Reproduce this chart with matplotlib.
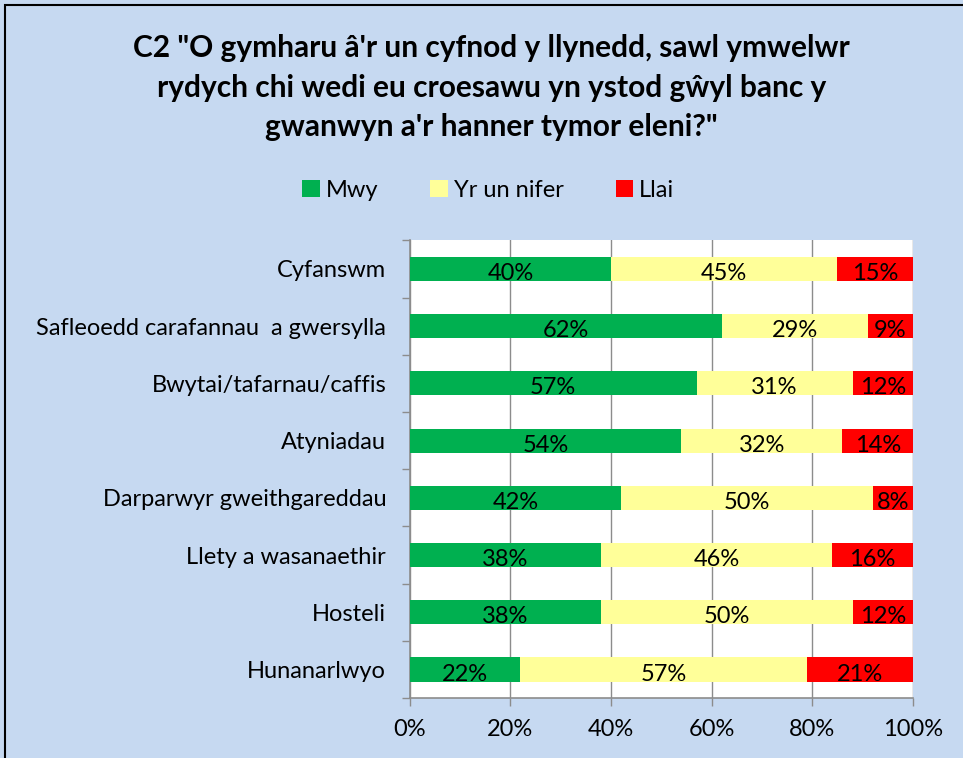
import matplotlib.pyplot as plt
import numpy as np
from matplotlib.patches import Rectangle

# data
categories = ["Cyfanswm", "Safleoedd carafannau  a gwersylla", "Bwytai/tafarnau/caffis",
              "Atyniadau", "Darparwyr gweithgareddau", "Llety a wasanaethir",
              "Hosteli", "Hunanarlwyo"]
mwy = [40, 62, 57, 54, 42, 38, 38, 22]
yr_un_nifer = [45, 29, 31, 32, 50, 46, 50, 57]
llai = [15, 9, 12, 14, 8, 16, 12, 21]
series_names = ["Mwy", "Yr un nifer", "Llai"]
colors = ["#00B050", "#FFFF99", "#FF0000"]

title = 'C2 "O gymharu â\'r un cyfnod y llynedd, sawl ymwelwr\nrydych chi wedi eu croesawu yn ystod gŵyl banc y\ngwanwyn a\'r hanner tymor eleni?"'

plt.rcParams['font.family'] = ['Lato', 'DejaVu Sans']

fig = plt.figure(figsize=(9.63, 7.58), dpi=100)
fig.patch.set_facecolor("#C6D9F1")
fig.patches.append(Rectangle((0.005, -0.01), 1.2, 1.003, transform=fig.transFigure,
                             fill=False, edgecolor="black", linewidth=1.5))

ax = fig.add_axes([0.4255, 0.079, 0.5225, 0.604])
ax.set_facecolor("white")

y = np.arange(len(categories))
left = np.zeros(len(categories))
for vals, name, col in zip([mwy, yr_un_nifer, llai], series_names, colors):
    bars = ax.barh(y, vals, left=left, height=0.42, color=col, label=name, zorder=3)
    for b, v in zip(bars, vals):
        ax.text(b.get_x() + b.get_width() / 2, b.get_y() + b.get_height() / 2 + 0.08,
                f"{v}%", ha="center", va="center", fontsize=17, color="black", zorder=4)
    left += np.array(vals)

ax.set_xlim(0, 100)
ax.set_ylim(len(categories) - 0.5, -0.5)
ax.set_xticks(range(0, 101, 20))
ax.set_xticklabels([f"{t}%" for t in range(0, 101, 20)], fontsize=17)
ax.xaxis.grid(True, color="#8C8C8C", linewidth=1, zorder=0)
ax.set_yticks(y)
ax.set_yticklabels(categories, fontsize=17)
ax.set_yticks(np.arange(-0.5, len(categories), 1), minor=True)
ax.tick_params(axis="y", which="major", length=0, pad=17)
ax.tick_params(axis="y", which="minor", length=6, color="#8C8C8C", width=1)
ax.tick_params(axis="x", length=6, color="#8C8C8C", width=1, pad=9)

for s in ["top", "right"]:
    ax.spines[s].set_visible(False)
for s in ["left", "bottom"]:
    ax.spines[s].set_color("#8C8C8C")
    ax.spines[s].set_linewidth(1.2)

fig.text(0.51, 0.884, title, ha="center", va="center", fontsize=21.5, fontweight="bold",
         family=["Lato", "DejaVu Sans"], linespacing=1.5)

fig.legend(loc="center", bbox_to_anchor=(0.507, 0.749), ncol=3, frameon=False,
           fontsize=17, handlelength=0.75, handleheight=0.75, columnspacing=2.2,
           handletextpad=0.25)

fig.savefig("out.png", dpi=100, facecolor=fig.get_facecolor())
